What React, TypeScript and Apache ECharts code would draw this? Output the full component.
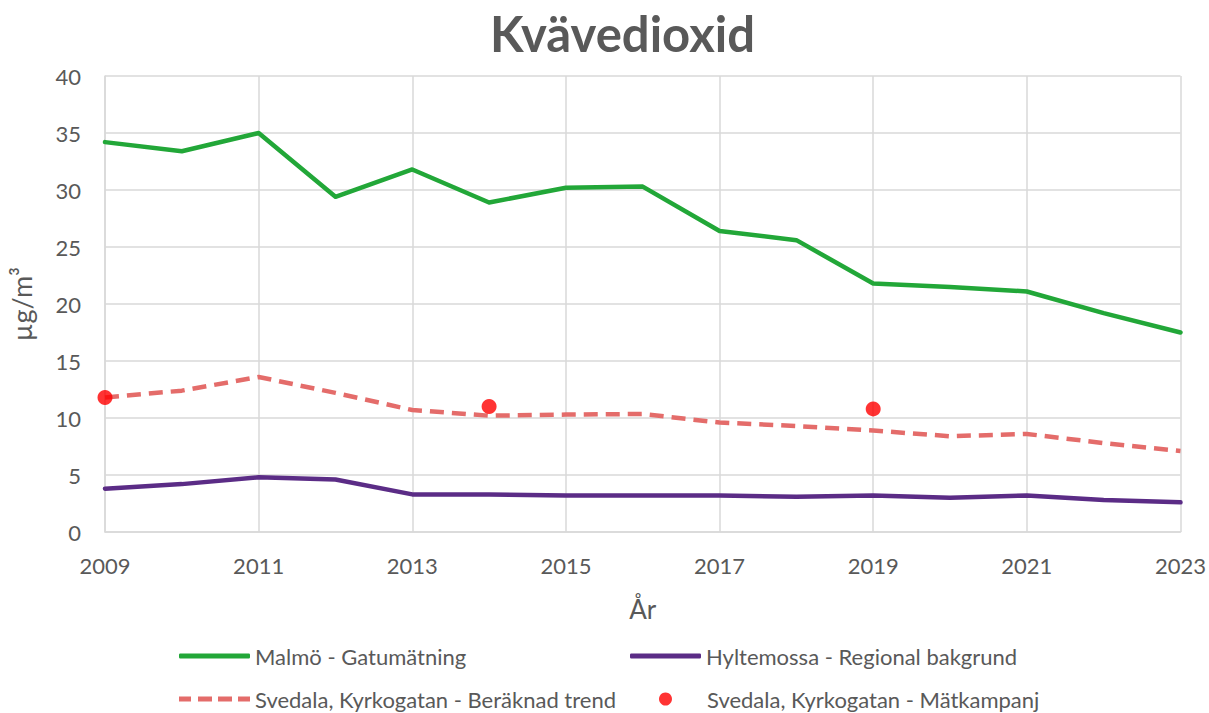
import React, { useEffect, useRef } from "react";
import * as echarts from "echarts";

const years = ["2009","2010","2011","2012","2013","2014","2015","2016","2017","2018","2019","2020","2021","2022","2023"];
const malmo = [34.2, 33.4, 35.0, 29.4, 31.8, 28.9, 30.2, 30.3, 26.4, 25.6, 21.8, 21.5, 21.1, 19.2, 17.5];
const hyltemossa = [3.8, 4.2, 4.8, 4.6, 3.3, 3.3, 3.2, 3.2, 3.2, 3.1, 3.2, 3.0, 3.2, 2.8, 2.6];
const svedalaTrend = [11.8, 12.4, 13.6, 12.2, 10.7, 10.2, 10.3, 10.35, 9.6, 9.3, 8.9, 8.4, 8.6, 7.8, 7.1];
const svedalaMeas = [11.8, null, null, null, null, 11.0, null, null, null, null, 10.8, null, null, null, null];
const seriesNames = [
  "Malmö - Gatumätning",
  "Hyltemossa - Regional bakgrund",
  "Svedala, Kyrkogatan - Beräknad trend",
  "Svedala, Kyrkogatan - Mätkampanj",
];

const FONT = "Lato, 'Noto Sans', sans-serif";
const TXT = "#595959";

export default function App() {
  const ref = useRef<HTMLDivElement>(null);
  useEffect(() => {
    if (!ref.current) return;
    const chart = echarts.init(ref.current, undefined, { renderer: "svg" });
    const legendText = { fontFamily: FONT, fontSize: 22, color: TXT };
    const legendBase = {
      itemWidth: 71,
      itemHeight: 5,
      itemGap: 5,
      padding: 0,
      textStyle: legendText,
      selectedMode: false,
    };
    chart.setOption({
      animation: false,
      backgroundColor: "#fff",
      textStyle: { fontFamily: FONT },
      title: {
        text: "Kvävedioxid",
        left: 490,
        top: 8,
        padding: 0,
        textStyle: { fontFamily: FONT, fontSize: 49, fontWeight: "bold", color: TXT },
      },
      grid: { left: 102, right: 26, top: 76, bottom: 181, containLabel: false },
      legend: [
        { ...legendBase, left: 179, top: 645, icon: "roundRect", data: [seriesNames[0]] },
        { ...legendBase, left: 630, top: 645, icon: "roundRect", data: [seriesNames[1]] },
        {
          ...legendBase,
          left: 179,
          top: 688,
          icon: "path://M0,0h12v5h-12z M19,0h14v5h-14z M39,0h14v5h-14z M59,0h12v5h-12z",
          data: [seriesNames[2]],
        },
        {
          ...legendBase,
          left: 659,
          top: 688,
          itemWidth: 13,
          itemHeight: 13,
          icon: "circle",
          textStyle: { ...legendText, padding: [0, 0, 0, 30] },
          data: [seriesNames[3]],
        },
      ],
      xAxis: {
        type: "category",
        data: years,
        boundaryGap: false,
        name: "År",
        nameLocation: "middle",
        nameGap: 64,
        nameTextStyle: { fontFamily: FONT, fontSize: 26, color: TXT },
        axisLine: { lineStyle: { color: "#D9D9D9", width: 1.5 } },
        axisTick: { show: false },
        axisLabel: { interval: 1, fontSize: 22, color: TXT, margin: 22, fontFamily: FONT },
        splitLine: { show: true, interval: 1, lineStyle: { color: "#D9D9D9", width: 1.5 } },
      },
      yAxis: {
        type: "value",
        min: 0,
        max: 40,
        interval: 5,
        name: "µg/m³",
        nameLocation: "middle",
        nameGap: 70,
        nameRotate: 90,
        nameTextStyle: { fontFamily: FONT, fontSize: 27, color: TXT },
        axisLine: { show: true, lineStyle: { color: "#D9D9D9", width: 1.5 } },
        axisTick: { show: false },
        axisLabel: { fontSize: 22, color: TXT, margin: 24, fontFamily: FONT },
        splitLine: { show: true, lineStyle: { color: "#D9D9D9", width: 1.5 } },
      },
      series: [
        {
          name: seriesNames[0],
          type: "line",
          data: malmo,
          symbol: "none",
          lineStyle: { color: "#22A738", width: 4.5, cap: "round", join: "round" },
          itemStyle: { color: "#22A738" },
        },
        {
          name: seriesNames[1],
          type: "line",
          data: hyltemossa,
          symbol: "none",
          lineStyle: { color: "#5B2C86", width: 4.5, cap: "round", join: "round" },
          itemStyle: { color: "#5B2C86" },
        },
        {
          name: seriesNames[2],
          type: "line",
          data: svedalaTrend,
          symbol: "none",
          lineStyle: { color: "#E46C6A", width: 4.5, type: [14, 8], join: "round" },
          itemStyle: { color: "#E46C6A" },
        },
        {
          name: seriesNames[3],
          type: "scatter",
          data: svedalaMeas,
          symbol: "circle",
          symbolSize: 15,
          itemStyle: { color: "#FF0000" },
          z: 5,
        },
      ],
    });
    return () => chart.dispose();
  }, []);
  return <div ref={ref} style={{ position: "fixed", left: 0, top: 0, width: 1209, height: 713 }} />;
}
